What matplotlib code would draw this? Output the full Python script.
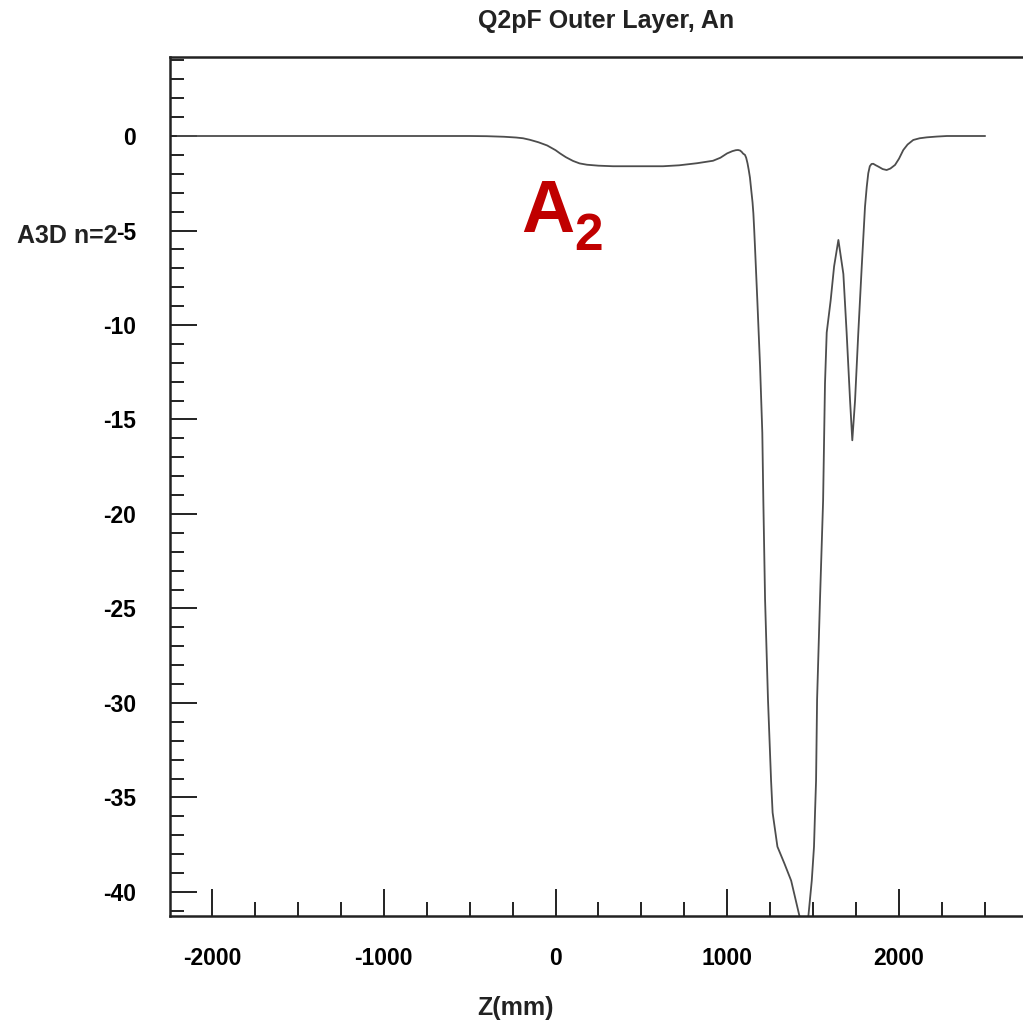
import numpy as np
import matplotlib
matplotlib.use('Agg')
import matplotlib.pyplot as plt
from matplotlib.ticker import MultipleLocator

plt.rcParams['font.family'] = ['Liberation Sans', 'DejaVu Sans']
plt.rcParams['axes.unicode_minus'] = False

# values (z in mm, A3D n=2)
z = [-2200, -500, -400, -300, -230, -189, -150, -100, -49, 0, 26, 60, 102, 140, 183,
     250, 335, 626, 720, 824, 917, 960, 999, 1030, 1050, 1063, 1075, 1085, 1092,
     1103, 1110, 1118, 1125, 1132, 1140, 1147, 1152, 1157, 1162, 1175, 1191,
     1204, 1210, 1220, 1237, 1255, 1264, 1292, 1333, 1372, 1421, 1457, 1472, 1492,
     1505, 1511, 1517, 1523, 1540, 1558, 1569, 1579, 1602, 1622, 1647, 1676, 1695,
     1715, 1728, 1744, 1763, 1783, 1802, 1812, 1821, 1830, 1840, 1850, 1865, 1880,
     1905, 1928, 1950, 1977, 2000, 2025, 2050, 2083, 2120, 2163, 2220, 2279, 2500]
a3d = [0, 0, -0.01, -0.04, -0.08, -0.12, -0.2, -0.33, -0.5, -0.75, -0.92, -1.12,
       -1.32, -1.45, -1.52, -1.57, -1.6, -1.6, -1.55, -1.44, -1.31, -1.15, -0.92,
       -0.8, -0.75, -0.74, -0.77, -0.85, -0.93, -1.0, -1.15, -1.45, -1.8, -2.2,
       -2.9, -3.5, -4.1, -5.0, -6.0, -8.7, -12.2, -15.7, -19.3, -24.5, -29.8,
       -34.1, -35.8, -37.6, -38.5, -39.4, -41.3, -42.7, -41.3, -39.4, -37.6,
       -35.8, -34.1, -29.8, -24.5, -19.3, -13.1, -10.4, -8.7, -6.9, -5.5, -7.3,
       -10.4, -14.0, -16.1, -14.0, -10.4, -6.9, -3.74, -2.7, -1.97, -1.6, -1.48,
       -1.47, -1.55, -1.62, -1.75, -1.8, -1.72, -1.53, -1.2, -0.74, -0.45, -0.21,
       -0.12, -0.07, -0.03, 0, 0]

x_major = [-2000, -1000, 0, 1000, 2000]
y_major = [-40, -35, -30, -25, -20, -15, -10, -5, 0]

fig = plt.figure(figsize=(10.23, 10.23), dpi=100)
ax = fig.add_axes([170 / 1023, 1 - 916 / 1023, 1 - 170 / 1023, (916 - 57) / 1023])

ax.plot(z, a3d, color='#4d4d4d', lw=1.3)

ax.set_xlim(-2245, 2722)
ax.set_ylim(-41.27, 4.18)

ax.set_xticks(x_major)
ax.set_yticks(y_major)
ax.xaxis.set_minor_locator(MultipleLocator(250))
ax.yaxis.set_minor_locator(MultipleLocator(1))
ax.tick_params(which='major', direction='in', length=19.5, width=1.4, color='#222222')
ax.tick_params(which='minor', direction='in', length=10, width=1.4, color='#222222')
ax.tick_params(axis='x', which='major', pad=22, labelsize=16.5)
ax.tick_params(axis='y', which='major', pad=24.5, labelsize=16.5)
for lab in ax.get_xticklabels() + ax.get_yticklabels():
    lab.set_fontweight('bold')
ax.tick_params(top=False, right=False, which='both')

ax.spines['right'].set_visible(False)
for s in ['left', 'bottom', 'top']:
    ax.spines[s].set_linewidth(1.8)
    ax.spines[s].set_color('#222222')

fig.text(606 / 1023, 1 - 28 / 1023, 'Q2pF Outer Layer, An', ha='center', va='baseline',
         fontsize=18, fontweight='bold', color='#222222')
fig.text(515 / 1023, 1 - 1015 / 1023, 'Z(mm)', ha='center', va='baseline',
         fontsize=18, fontweight='bold', color='#222222')
fig.text(17 / 1023, 1 - 243 / 1023, 'A3D n=2', ha='left', va='baseline',
         fontsize=18, fontweight='bold', color='#222222')

# red annotation
fig.text(521 / 1023, 1 - 232 / 1023, 'A', ha='left', va='baseline',
         fontsize=53, fontweight='bold', color='#c00000')
fig.text(574 / 1023, 1 - 250 / 1023, '2', ha='left', va='baseline',
         fontsize=37, fontweight='bold', color='#c00000')

fig.savefig('out.png', dpi=100)
